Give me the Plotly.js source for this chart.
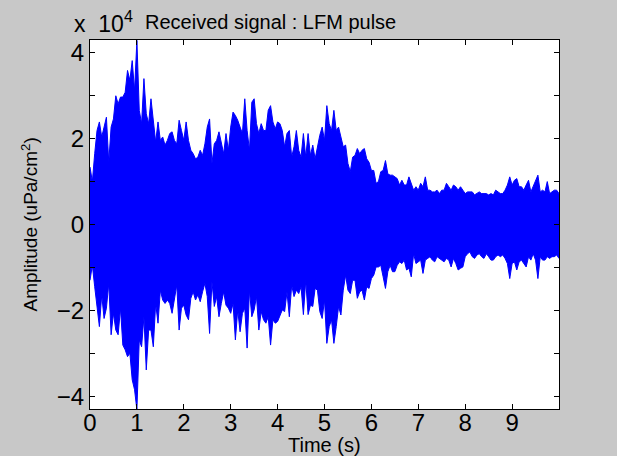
<!DOCTYPE html>
<html>
<head>
<meta charset="utf-8">
<script src="https://cdn.plot.ly/plotly-3.0.1.min.js"></script>
<style>html,body{margin:0;padding:0;background:#c8c8c8;}#chart{width:617px;height:456px;}</style>
</head>
<body>
<div id="chart"></div>
<script>
// Time (s), sampled every 0.05 s
const timeS = [0,0.05,0.1,0.15,0.2,0.25,0.3,0.35,0.4,0.45,0.5,0.55,0.6,0.65,0.7,0.75,0.8,0.85,0.9,0.95,
1,1.05,1.1,1.15,1.2,1.25,1.3,1.35,1.4,1.45,1.5,1.55,1.6,1.65,1.7,1.75,1.8,1.85,1.9,1.95,
2,2.05,2.1,2.15,2.2,2.25,2.3,2.35,2.4,2.45,2.5,2.55,2.6,2.65,2.7,2.75,2.8,2.85,2.9,2.95,
3,3.05,3.1,3.15,3.2,3.25,3.3,3.35,3.4,3.45,3.5,3.55,3.6,3.65,3.7,3.75,3.8,3.85,3.9,3.95,
4,4.05,4.1,4.15,4.2,4.25,4.3,4.35,4.4,4.45,4.5,4.55,4.6,4.65,4.7,4.75,4.8,4.85,4.9,4.95,
5,5.05,5.1,5.15,5.2,5.25,5.3,5.35,5.4,5.45,5.5,5.55,5.6,5.65,5.7,5.75,5.8,5.85,5.9,5.95,
6,6.05,6.1,6.15,6.2,6.25,6.3,6.35,6.4,6.45,6.5,6.55,6.6,6.65,6.7,6.75,6.8,6.85,6.9,6.95,
7,7.05,7.1,7.15,7.2,7.25,7.3,7.35,7.4,7.45,7.5,7.55,7.6,7.65,7.7,7.75,7.8,7.85,7.9,7.95,
8,8.05,8.1,8.15,8.2,8.25,8.3,8.35,8.4,8.45,8.5,8.55,8.6,8.65,8.7,8.75,8.8,8.85,8.9,8.95,
9,9.05,9.1,9.15,9.2,9.25,9.3,9.35,9.4,9.45,9.5,9.55,9.6,9.65,9.7,9.75,9.8,9.85,9.9,9.95,10];

// Upper (positive) envelope of received signal, in units of 1e4 uPa/cm^2
const upperEnv = [1.34,1.0,1.65,2.19,2.39,2.04,2.27,2.5,1.45,2.27,
2.46,3.0,2.81,2.97,2.97,3.08,3.59,3.36,3.82,3.12,
4.29,2.66,2.35,3.4,2.58,2.35,2.93,2.43,1.92,2.39,
1.96,2.04,1.85,1.96,2.12,2.16,1.96,1.88,2.43,2.19,
1.96,2.39,1.96,1.73,1.65,1.53,1.57,1.73,1.61,1.88,
2.27,2.46,1.42,1.88,1.96,2.16,1.88,1.65,2.12,1.73,
2.27,2.62,2.54,2.43,2.27,2.12,2.93,2.19,1.73,2.85,
2.93,2.35,2.12,2.35,2.19,2.19,2.66,2.77,2.39,2.23,
2.39,2.35,2.19,1.81,2.12,2.19,1.57,1.81,2.19,1.73,
1.57,2.12,1.57,2.12,1.61,1.85,1.53,1.81,2.08,2.27,
1.96,2.77,2.35,2.19,2.66,2.19,2.27,2.04,1.81,1.85,
1.42,1.23,1.57,1.61,1.77,1.65,1.73,1.77,1.53,1.45,
1.26,1.26,0.96,1.0,1.23,1.26,1.49,1.18,1.15,1.15,
1.11,1.07,0.92,1.03,0.92,0.92,1.11,0.96,0.80,0.88,
0.80,0.96,0.88,1.11,0.80,0.80,0.76,0.76,0.80,0.72,
0.80,0.80,0.96,0.88,0.80,0.92,0.88,0.80,0.88,0.80,
0.72,0.76,0.76,0.76,0.69,0.72,0.76,0.72,0.72,0.72,
0.69,0.72,0.69,0.80,0.76,0.72,0.72,0.80,0.92,1.11,
0.92,1.03,1.07,0.88,0.88,0.80,0.92,1.03,0.76,0.88,
1.03,1.15,0.76,0.80,0.76,1.00,0.72,0.76,0.80,0.80,
0.72];

// Lower (negative) envelope, in units of 1e4 uPa/cm^2
const lowerEnv = [-1.3,-0.95,-1.45,-2.0,-2.38,-1.64,-2.19,-1.95,-1.37,-2.57,
-2.07,-2.46,-2.57,-1.95,-2.81,-2.92,-3.08,-3.0,-3.62,-3.85,
-4.32,-2.69,-2.85,-2.15,-3.39,-2.46,-2.46,-2.85,-1.84,-2.30,
-1.53,-1.76,-1.84,-1.76,-1.84,-2.07,-1.76,-1.41,-2.46,-1.95,
-1.88,-2.11,-2.22,-1.72,-1.57,-1.76,-1.64,-1.80,-1.57,-1.37,
-1.68,-2.54,-1.33,-1.91,-1.68,-2.15,-1.84,-1.57,-1.88,-1.95,
-2.07,-1.84,-2.69,-1.99,-2.50,-2.07,-1.95,-2.88,-1.53,-2.15,
-1.99,-1.68,-2.46,-2.03,-2.22,-2.30,-2.15,-2.81,-2.22,-2.30,
-2.26,-2.11,-1.99,-2.03,-1.57,-2.15,-1.41,-1.68,-1.53,-1.61,
-1.45,-2.10,-1.30,-2.10,-1.88,-1.91,-1.49,-1.53,-2.03,-2.19,
-1.76,-2.77,-2.38,-2.22,-2.77,-2.38,-1.91,-2.11,-1.53,-1.18,
-1.53,-1.61,-1.30,-1.30,-1.72,-1.57,-1.53,-1.76,-1.45,-1.49,
-1.26,-1.18,-0.99,-0.99,-0.95,-1.22,-1.49,-1.10,-0.95,-1.10,
-1.10,-0.95,-0.87,-0.91,-0.83,-1.06,-1.02,-1.22,-0.68,-0.91,
-0.87,-0.83,-1.14,-0.83,-0.79,-0.75,-0.83,-0.87,-0.75,-0.79,
-0.83,-0.87,-0.79,-0.83,-0.99,-0.79,-0.91,-1.06,-1.02,-0.99,
-0.75,-0.68,-0.64,-0.75,-0.79,-0.71,-0.68,-0.75,-0.79,-0.68,
-0.75,-0.83,-0.83,-0.75,-0.71,-0.75,-0.71,-0.79,-0.91,-1.26,
-0.91,-0.87,-1.06,-0.87,-0.83,-0.91,-0.99,-0.75,-0.83,-0.68,
-0.83,-1.26,-0.75,-0.83,-0.83,-0.75,-0.79,-0.75,-0.75,-0.71,
-0.79];

const xTickVals = [0,1,2,3,4,5,6,7,8,9];
const xTickText = ['0','1','2','3','4','5','6','7','8','9'];
const yTickVals = [-4,-2,0,2,4];
const yTickText = ['\u22124','\u22122','0','2','4'];

const blue = '#0000ff';
const traces = [
  {x: timeS, y: lowerEnv, type: 'scatter', mode: 'lines',
   line: {color: blue, width: 1}, hoverinfo: 'skip', showlegend: false},
  {x: timeS, y: upperEnv, type: 'scatter', mode: 'lines', fill: 'tonexty',
   fillcolor: blue, line: {color: blue, width: 1}, hoverinfo: 'skip', showlegend: false}
];

const font = 'Liberation Sans, Arial, sans-serif';
const layout = {
  width: 617, height: 456,
  margin: {l: 90, r: 58, t: 40, b: 47, pad: 0},
  paper_bgcolor: '#c8c8c8', plot_bgcolor: '#ffffff',
  showlegend: false,
  xaxis: {range: [0, 10], tickvals: xTickVals, ticktext: xTickText,
    ticks: 'inside', ticklen: 5, tickcolor: '#000', tickwidth: 1,
    ticklabelstandoff: -8,
    showline: true, linecolor: '#000', linewidth: 1, mirror: 'ticks',
    showgrid: false, zeroline: false,
    tickfont: {family: font, size: 24, color: '#000'}},
  yaxis: {range: [-4.3, 4.3], tickvals: yTickVals, ticktext: yTickText,
    ticks: 'inside', ticklen: 5, tickcolor: '#000', tickwidth: 1,
    minor: {dtick: 1, tick0: 0, ticks: 'inside', ticklen: 5, tickcolor: '#000', tickwidth: 1, showgrid: false},
    showline: true, linecolor: '#000', linewidth: 1, mirror: 'ticks',
    showgrid: false, zeroline: false,
    tickfont: {family: font, size: 24, color: '#000'}},
  annotations: [
    {text: 'Received signal : LFM pulse', xref: 'paper', yref: 'paper',
     x: 0.385, y: 1.049, xanchor: 'center', yanchor: 'middle', showarrow: false,
     font: {family: font, size: 20, color: '#000'}},
    {text: 'x  10<sup>4</sup>', xref: 'paper', yref: 'paper',
     x: -0.038, y: 1.05, xanchor: 'left', yanchor: 'middle', showarrow: false,
     font: {family: font, size: 23, color: '#000'}},
    {text: 'Time (s)', xref: 'paper', yref: 'paper',
     x: 0.5, y: -0.098, xanchor: 'center', yanchor: 'middle', showarrow: false,
     font: {family: font, size: 20, color: '#000'}},
    {text: 'Amplitude (uPa/cm<sup>2</sup>)', xref: 'paper', yref: 'paper',
     x: -0.13, y: 0.5, xanchor: 'center', yanchor: 'middle', showarrow: false,
     textangle: -90, font: {family: font, size: 19, color: '#000'}}
  ]
};

Plotly.newPlot('chart', traces, layout, {displayModeBar: false, staticPlot: true});
</script>
</body>
</html>
